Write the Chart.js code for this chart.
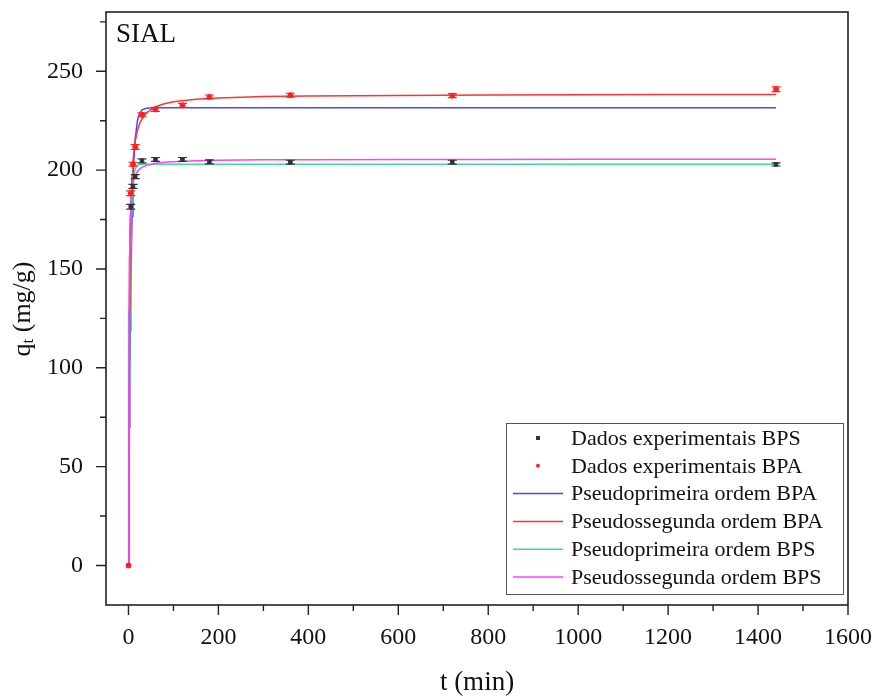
<!DOCTYPE html>
<html>
<head>
<meta charset="utf-8">
<script src="https://cdn.jsdelivr.net/npm/chart.js@4/dist/chart.umd.min.js"></script>
<style>
  html, body { margin: 0; background: #fff; }
  #wrap { width: 875px; height: 697px; }
</style>
</head>
<body>
<div id="wrap"><canvas id="kineticsChart"></canvas></div>
<script>
// experimental points (t in min, q in mg/g)
const tExp = [0, 5, 10, 15, 30, 60, 120, 180, 360, 720, 1440];
const qBPS = [0, 181.5, 191.8, 196.7, 204.7, 205.4, 205.4, 204.2, 204.0, 204.0, 202.9];
const errBPS = [0, 1.2, 1.0, 1.0, 1.0, 1.0, 1.0, 1.0, 1.0, 1.0, 0.8];
const qBPA = [0, 188.3, 203.0, 211.7, 228.0, 230.7, 232.8, 237.0, 237.9, 237.7, 240.9];
const errBPA = [0, 1.2, 1.0, 1.2, 1.0, 1.0, 1.0, 1.0, 1.0, 1.0, 1.2];

// fitted curves
const tFit = [0, 1, 2, 3, 4, 5, 6, 8, 10, 12, 15, 20, 25, 30, 40, 60, 80, 100, 150, 200, 300, 400, 600, 800, 1000, 1200, 1440];
const pfoBPA = [0, 38.1, 69.9, 96.5, 118.8, 137.3, 152.8, 176.7, 193.3, 204.9, 216.0, 225.2, 228.9, 230.5, 231.3, 231.5, 231.5, 231.5, 231.5, 231.5, 231.5, 231.5, 231.5, 231.5, 231.5, 231.5, 231.5];
const psoBPA = [0, 89.4, 130.0, 153.3, 168.4, 178.9, 186.7, 197.4, 204.4, 209.4, 214.7, 220.2, 223.6, 225.9, 229.0, 232.1, 233.6, 234.6, 235.9, 236.5, 237.2, 237.5, 237.8, 238.0, 238.1, 238.2, 238.2];
const pfoBPS = [0, 52.6, 91.6, 120.4, 141.9, 157.7, 169.5, 184.5, 192.9, 197.5, 200.7, 202.5, 202.9, 203.0, 203.0, 203.0, 203.0, 203.0, 203.0, 203.0, 203.0, 203.0, 203.0, 203.0, 203.0, 203.0, 203.0];
const psoBPS = [0, 126.5, 156.6, 170.1, 177.8, 182.8, 186.2, 190.7, 193.5, 195.4, 197.4, 199.4, 200.6, 201.4, 202.4, 203.5, 204.0, 204.3, 204.7, 205.0, 205.2, 205.3, 205.4, 205.4, 205.5, 205.5, 205.5];

const xTicks = [0, 200, 400, 600, 800, 1000, 1200, 1400, 1600];
const yTicks = [0, 50, 100, 150, 200, 250];

const SERIF = '"Liberation Serif", "Times New Roman", serif';

const toXY = (xs, ys) => xs.map((x, i) => ({ x: x, y: ys[i] }));

function lineSet(label, color, ys, order) {
  return {
    type: 'line', label: label, data: toXY(tFit, ys),
    borderColor: color, backgroundColor: color, borderWidth: 1.5,
    pointRadius: 0, tension: 0, fill: false, order: order
  };
}

// error bars + frame + minor/major ticks + titles + legend
const decorPlugin = {
  id: 'decor',
  afterDatasetsDraw(chart) {
    const ctx = chart.ctx;
    const xs = chart.scales.x, ys = chart.scales.y;
    chart.data.datasets.forEach(ds => {
      if (!ds.errors) return;
      ctx.save();
      ctx.strokeStyle = ds.borderColor;
      ctx.lineWidth = 1.2;
      ds.data.forEach((p, i) => {
        const e = ds.errors[i];
        if (!e) return;
        const px = xs.getPixelForValue(p.x);
        const y1 = ys.getPixelForValue(p.y + e), y2 = ys.getPixelForValue(p.y - e);
        ctx.beginPath();
        ctx.moveTo(px, y1); ctx.lineTo(px, y2);
        ctx.moveTo(px - 4.5, y1); ctx.lineTo(px + 4.5, y1);
        ctx.moveTo(px - 4.5, y2); ctx.lineTo(px + 4.5, y2);
        ctx.stroke();
      });
      ctx.restore();
    });
  },
  afterDraw(chart) {
    const ctx = chart.ctx;
    const a = chart.chartArea;
    const xs = chart.scales.x, ys = chart.scales.y;
    ctx.save();
    ctx.strokeStyle = '#222';
    ctx.lineWidth = 1.6;
    ctx.strokeRect(a.left, a.top, a.right - a.left, a.bottom - a.top);

    ctx.lineWidth = 1.4;
    ctx.beginPath();
    for (let i = 0; i < xTicks.length; i++) {
      const px = xs.getPixelForValue(xTicks[i]);
      ctx.moveTo(px, a.bottom); ctx.lineTo(px, a.bottom + 10);
      if (i < xTicks.length - 1) {
        const mx = xs.getPixelForValue((xTicks[i] + xTicks[i + 1]) / 2);
        ctx.moveTo(mx, a.bottom); ctx.lineTo(mx, a.bottom + 6);
      }
    }
    for (let i = 0; i < yTicks.length; i++) {
      const py = ys.getPixelForValue(yTicks[i]);
      ctx.moveTo(a.left, py); ctx.lineTo(a.left - 10, py);
      const mid = yTicks[i] + 25;
      if (mid < ys.max) {
        const my = ys.getPixelForValue(mid);
        ctx.moveTo(a.left, my); ctx.lineTo(a.left - 6, my);
      }
    }
    ctx.stroke();

    // SIAL tag
    ctx.fillStyle = '#111';
    ctx.font = '27px ' + SERIF;
    ctx.textAlign = 'left';
    ctx.textBaseline = 'alphabetic';
    ctx.fillText('SIAL', a.left + 10, a.top + 30);

    // x title
    ctx.font = '27px ' + SERIF;
    ctx.textAlign = 'center';
    ctx.fillText('t (min)', (a.left + a.right) / 2, 690);

    // y title with subscript
    ctx.save();
    ctx.translate(30, 309);
    ctx.rotate(-Math.PI / 2);
    ctx.textAlign = 'left';
    const big = '26px ' + SERIF, small = '17px ' + SERIF;
    ctx.font = big; const wq = ctx.measureText('q').width;
    ctx.font = small; const wt = ctx.measureText('t').width;
    ctx.font = big; const wr = ctx.measureText(' (mg/g)').width;
    const x0 = -(wq + wt + wr) / 2;
    ctx.font = big; ctx.fillText('q', x0, 0);
    ctx.font = small; ctx.fillText('t', x0 + wq, 3);
    ctx.font = big; ctx.fillText(' (mg/g)', x0 + wq + wt, 0);
    ctx.restore();

    // legend
    const lx = 506, ly = 423, lw = 337, lh = 171;
    ctx.fillStyle = '#fff';
    ctx.fillRect(lx, ly, lw, lh);
    ctx.strokeStyle = '#555';
    ctx.lineWidth = 1;
    ctx.strokeRect(lx + 0.5, ly + 0.5, lw, lh);
    ctx.font = '22px ' + SERIF;
    ctx.textAlign = 'left';
    ctx.textBaseline = 'middle';
    chart.data.datasets.forEach((ds, i) => {
      const cy = ly + 15 + i * 27.8;
      if (ds.type === 'scatter') {
        ctx.fillStyle = ds.backgroundColor;
        if (ds.pointStyle === 'rect') ctx.fillRect(536, cy - 2, 4, 4);
        else { ctx.beginPath(); ctx.arc(538, cy, 2, 0, Math.PI * 2); ctx.fill(); }
      } else {
        ctx.strokeStyle = ds.borderColor;
        ctx.lineWidth = 1.5;
        ctx.beginPath(); ctx.moveTo(513, cy); ctx.lineTo(563, cy); ctx.stroke();
      }
      ctx.fillStyle = '#111';
      ctx.fillText(ds.label, 571, cy + 1);
    });
    ctx.restore();
  }
};

new Chart(document.getElementById('kineticsChart'), {
  data: {
    datasets: [
      { type: 'scatter', label: 'Dados experimentais BPS', data: toXY(tExp, qBPS), errors: errBPS,
        pointStyle: 'rect', pointRadius: 2.5, backgroundColor: '#333', borderColor: '#333', order: 1 },
      { type: 'scatter', label: 'Dados experimentais BPA', data: toXY(tExp, qBPA), errors: errBPA,
        pointStyle: 'circle', pointRadius: 2.5, backgroundColor: '#ff2020', borderColor: '#ff2020', order: 0 },
      lineSet('Pseudoprimeira ordem BPA', '#4646ff', pfoBPA, 5),
      lineSet('Pseudossegunda ordem BPA', '#ff3333', psoBPA, 3),
      lineSet('Pseudoprimeira ordem BPS', '#3ddc97', pfoBPS, 4),
      lineSet('Pseudossegunda ordem BPS', '#ff40ff', psoBPS, 2)
    ]
  },
  options: {
    responsive: true,
    maintainAspectRatio: false,
    animation: false,
    layout: { padding: { left: 0, top: 12, right: 27, bottom: 0 } },
    plugins: { legend: { display: false }, tooltip: { enabled: false } },
    scales: {
      x: {
        type: 'linear', min: -50, max: 1600,
        grid: { display: false, drawTicks: false },
        border: { display: false },
        afterBuildTicks: s => { s.ticks = xTicks.map(v => ({ value: v })); },
        afterFit: s => { s.height = 92; s.paddingLeft = 0; s.paddingRight = 0; },
        ticks: { padding: 18, color: '#111', font: { family: SERIF, size: 24 }, maxRotation: 0,
                 callback: v => String(v) }
      },
      y: {
        type: 'linear', min: -20, max: 280,
        grid: { display: false, drawTicks: false },
        border: { display: false },
        afterBuildTicks: s => { s.ticks = yTicks.map(v => ({ value: v })); },
        afterFit: s => { s.width = 106; s.paddingTop = 0; s.paddingBottom = 0; },
        ticks: { padding: 23, color: '#111', font: { family: SERIF, size: 24 },
                 callback: v => String(v) }
      }
    }
  },
  plugins: [decorPlugin]
});
</script>
</body>
</html>
